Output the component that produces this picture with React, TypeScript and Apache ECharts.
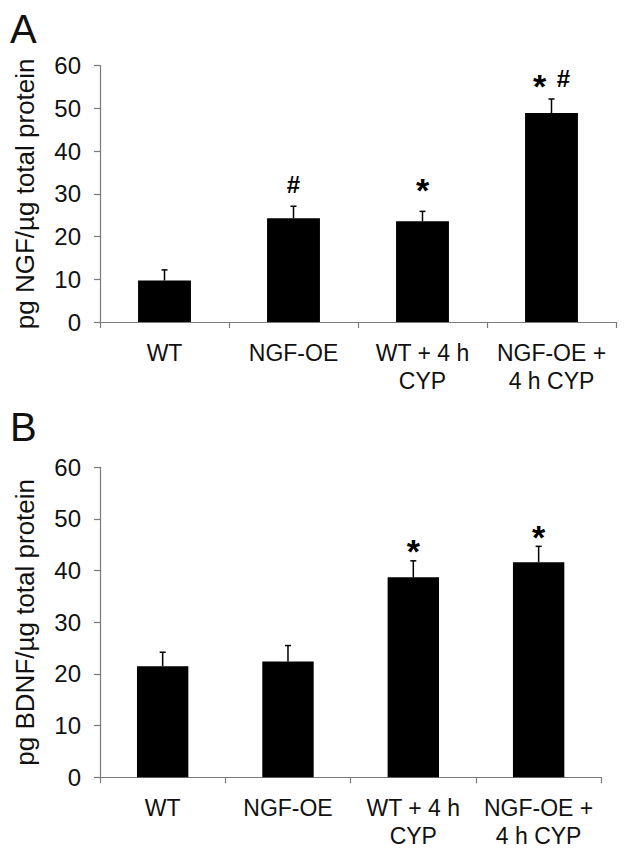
import React, { useEffect, useRef } from "react";
import * as echarts from "echarts";

const categories = ["WT", "NGF-OE", "WT + 4 h\nCYP", "NGF-OE +\n4 h CYP"];

const ngfMeans = [9.7, 24.3, 23.6, 48.9];
const ngfSem = [2.5, 2.8, 2.3, 3.3];
const ngfMarks = ["", "#", "*", "* #"];
const ngfMarkY = [0, 32.3, 32.6, 57.1];

const bdnfMeans = [21.5, 22.4, 38.7, 41.6];
const bdnfSem = [2.7, 3.1, 3.2, 3.1];
const bdnfMarks = ["", "", "*", "*"];
const bdnfMarkY = [0, 0, 45.2, 48.0];

const yMin = 0;
const yMax = 60;
const yStep = 10;

const FONT = "'Liberation Sans', Arial, sans-serif";
const TEXT = "#111111";
const AXIS = "#7a7a7a";

function errorRender() {
  return (params: any, api: any) => {
    const i = api.value(0);
    const base = api.coord([i, api.value(1)]);
    const top = api.coord([i, api.value(2)]);
    return {
      type: "group",
      children: [
        {
          type: "line",
          shape: { x1: base[0], y1: base[1], x2: top[0], y2: top[1] },
          style: { stroke: "#000", lineWidth: 1.5 },
        },
        {
          type: "line",
          shape: { x1: top[0] - 3, y1: top[1], x2: top[0] + 3, y2: top[1] },
          style: { stroke: "#000", lineWidth: 1.5 },
        },
      ],
    };
  };
}

function markRender(marks: string[]) {
  return (params: any, api: any) => {
    const i = api.value(0);
    const label = marks[i];
    if (!label) return { type: "group", children: [] };
    const c = api.coord([i, api.value(1)]);
    const tokens = label.split(" ");
    const gap = 24;
    return {
      type: "group",
      children: tokens.map((tk, k) => {
        const star = tk === "*";
        const fs = star ? 34 : 24;
        return {
          type: "text",
          x: c[0] + (k - (tokens.length - 1) / 2) * gap,
          y: c[1] + (star ? 0.22 * fs : 0),
          style: {
            text: tk,
            fontSize: fs,
            fontWeight: "bold",
            fontFamily: FONT,
            fill: "#000",
            align: "center",
            verticalAlign: "middle",
          },
        };
      }),
    };
  };
}

function xAxisCfg(gridIndex: number) {
  return {
    type: "category",
    gridIndex,
    data: categories,
    axisLine: { show: true, lineStyle: { color: AXIS, width: 1.2 } },
    axisTick: { show: true, length: 6, inside: false, lineStyle: { color: AXIS, width: 1.2 } },
    axisLabel: {
      color: TEXT,
      fontSize: 23,
      fontFamily: FONT,
      lineHeight: 28,
      margin: 17,
      interval: 0,
    },
  };
}

function yAxisCfg(gridIndex: number, name: string) {
  return {
    type: "value",
    gridIndex,
    min: yMin,
    max: yMax,
    interval: yStep,
    name,
    nameLocation: "middle",
    nameRotate: 90,
    nameGap: 62,
    nameTextStyle: { color: TEXT, fontSize: 26, fontFamily: FONT },
    axisLine: { show: true, lineStyle: { color: AXIS, width: 1.2 } },
    axisTick: { show: true, length: 6, inside: false, lineStyle: { color: AXIS, width: 1.2 } },
    splitLine: { show: false },
    axisLabel: { color: TEXT, fontSize: 24, fontFamily: FONT, margin: 19 },
  };
}

export default function App() {
  const ref = useRef<HTMLDivElement>(null);
  useEffect(() => {
    if (!ref.current) return;
    const chart = echarts.init(ref.current, undefined, { renderer: "svg" });
    chart.setOption({
      animation: false,
      backgroundColor: "#ffffff",
      grid: [
        { left: 100, top: 65.7, width: 516, height: 256.3 },
        { left: 100, top: 467.3, width: 501.3, height: 310 },
      ],
      xAxis: [xAxisCfg(0), xAxisCfg(1)],
      yAxis: [
        yAxisCfg(0, "pg NGF/µg total protein"),
        yAxisCfg(1, "pg BDNF/µg total protein"),
      ],
      graphic: [
        {
          type: "text",
          left: 10,
          top: 9,
          style: { text: "A", fontSize: 40, fontFamily: FONT, fill: TEXT },
        },
        {
          type: "text",
          left: 10,
          top: 407,
          style: { text: "B", fontSize: 40, fontFamily: FONT, fill: TEXT },
        },
      ],
      series: [
        {
          type: "bar",
          xAxisIndex: 0,
          yAxisIndex: 0,
          data: ngfMeans,
          barWidth: "41%",
          itemStyle: { color: "#000" },
          z: 2,
        },
        {
          type: "custom",
          xAxisIndex: 0,
          yAxisIndex: 0,
          renderItem: errorRender(),
          data: ngfMeans.map((m, i) => [i, m, m + ngfSem[i]]),
          clip: false,
          z: 3,
        },
        {
          type: "custom",
          xAxisIndex: 0,
          yAxisIndex: 0,
          renderItem: markRender(ngfMarks),
          data: ngfMarkY.map((y, i) => [i, y]),
          clip: false,
          z: 4,
        },
        {
          type: "bar",
          xAxisIndex: 1,
          yAxisIndex: 1,
          data: bdnfMeans,
          barWidth: "41%",
          itemStyle: { color: "#000" },
          z: 2,
        },
        {
          type: "custom",
          xAxisIndex: 1,
          yAxisIndex: 1,
          renderItem: errorRender(),
          data: bdnfMeans.map((m, i) => [i, m, m + bdnfSem[i]]),
          clip: false,
          z: 3,
        },
        {
          type: "custom",
          xAxisIndex: 1,
          yAxisIndex: 1,
          renderItem: markRender(bdnfMarks),
          data: bdnfMarkY.map((y, i) => [i, y]),
          clip: false,
          z: 4,
        },
      ],
    });
    return () => chart.dispose();
  }, []);
  return (
    <div
      ref={ref}
      style={{ position: "absolute", left: 0, top: 0, width: 624, height: 853, background: "#fff" }}
    />
  );
}
